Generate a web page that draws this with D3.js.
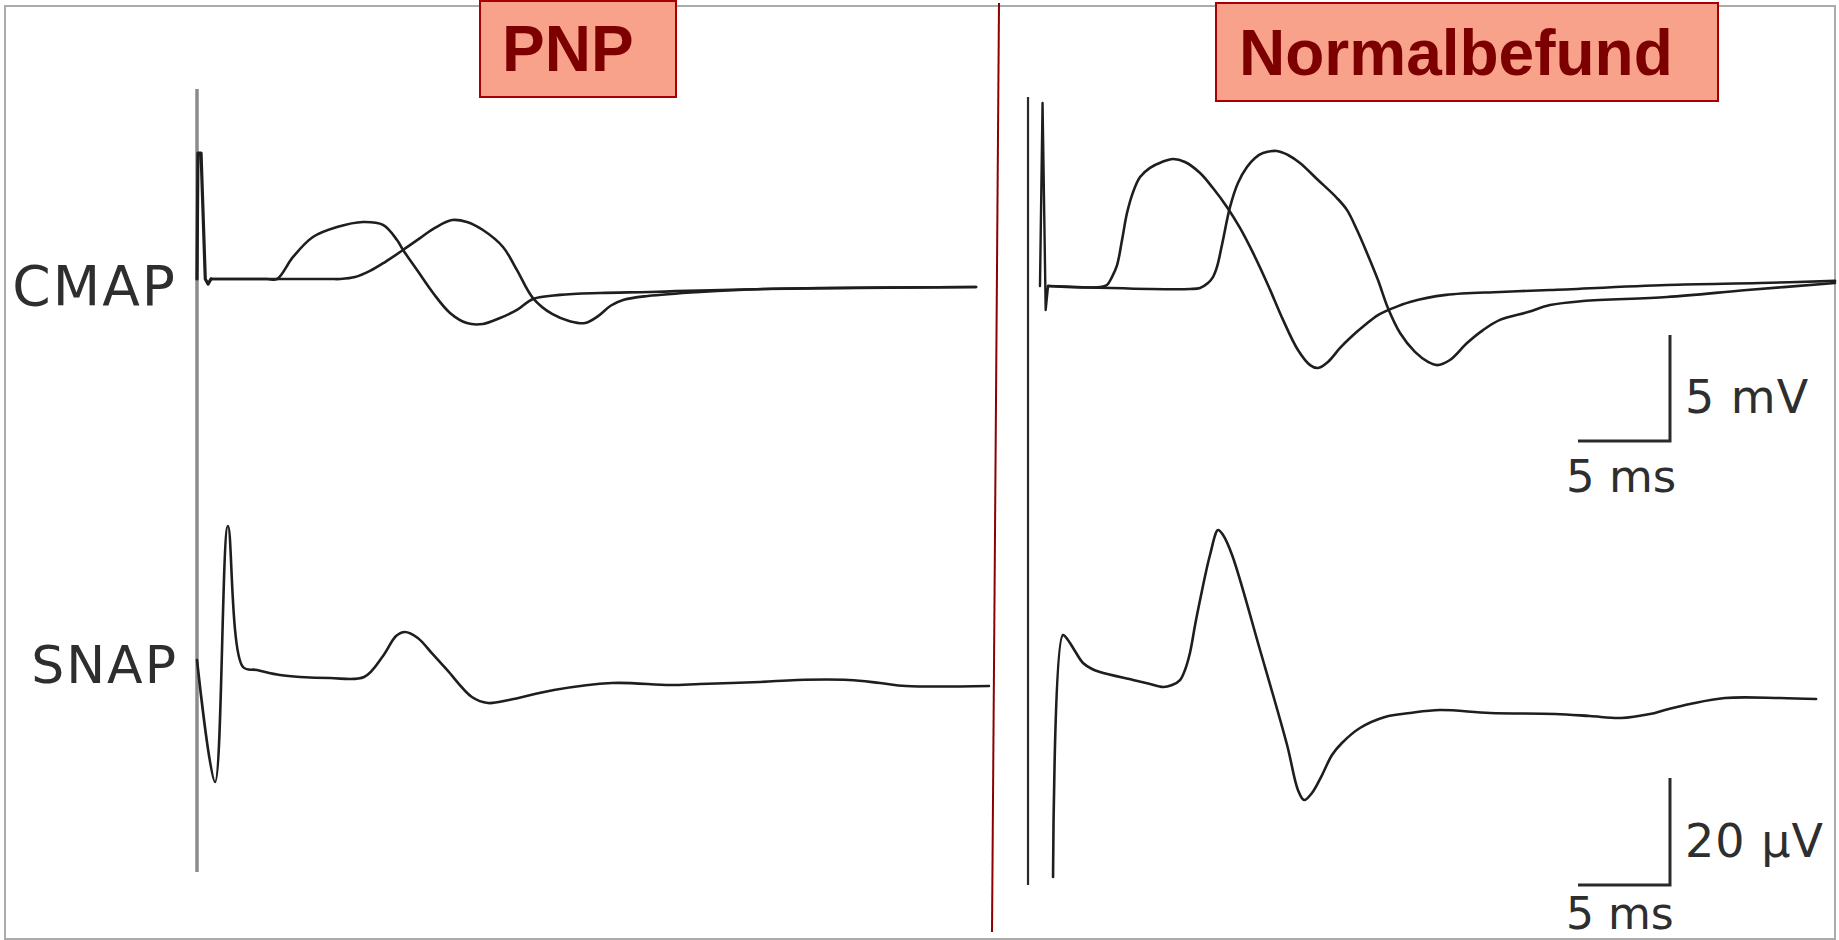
<!DOCTYPE html>
<head>
  <meta charset="utf-8">
  <script src="https://cdn.jsdelivr.net/npm/d3@7"></script>
  <style>
    body { margin:0; background:#fff; }
    .trace { fill:none; stroke:#1e1e1e; stroke-width:2.6; stroke-linejoin:round; stroke-linecap:round; }
    .lbl { font-family:"DejaVu Sans", sans-serif; fill:#2e2e2e; }
    .title { font-family:"Liberation Sans", Arial, sans-serif; font-weight:bold; font-size:64px; fill:#7d0000; }
  </style>
</head>

<body>
  <script>
    // time in ms, CMAP in mV, SNAP in µV
    var stimArtifactLeft = [[0,0],[0.05,5.94],[0.22,5.94],[0.45,0],[0.6,-0.24],[0.76,0]];
    var cmapLeftDistal = [[0.76,0],[3.8,0],[4.35,0],[5.22,1.04],[6.3,1.98],[7.61,2.45],[9.02,2.69],
      [10.11,2.55],[10.87,1.84],[11.2,1.37],[11.96,0.42],[12.83,-0.66],[13.75,-1.6],[14.67,-2.08],
      [15.54,-2.12],[16.47,-1.84],[17.39,-1.46],[18.26,-0.94],[19.73,-0.75],[21.9,-0.66],[24.62,-0.61],
      [30.87,-0.47],[42.34,-0.38]];
    var cmapLeftProximal = [[0.76,0],[7.2,0],[7.77,0],[8.59,0.09],[9.4,0.38],[10.22,0.8],[11.2,1.37],
      [12.12,1.93],[12.93,2.41],[13.86,2.78],[14.67,2.69],[15.54,2.31],[16.63,1.51],[17.39,0.42],
      [18.26,-0.9],[19.3,-1.65],[20.3,-2.0],[21.09,-2.08],[21.8,-1.75],[22.5,-1.25],[23.2,-0.98],
      [24.5,-0.8],[27.34,-0.61],[30.87,-0.47],[42.34,-0.38]];
    var snapLeft = [[0,3.18],[0.98,-19.63],[1.68,28.22],[2.5,1.87],[3.26,1.31],[4.51,0.37],[5.6,0],
      [7.23,-0.19],[9.08,0],[10.11,3.93],[10.82,7.66],[11.3,8.41],[12.0,7.3],[12.8,4.3],[13.59,1.31],
      [14.94,-3.74],[15.82,-4.86],[16.96,-4.3],[19.4,-2.43],[22.55,-1.12],[25.71,-1.5],[27.34,-1.31],
      [30.6,-0.93],[32.61,-0.56],[35.43,-0.56],[37.12,-1.12],[38.53,-1.68],[43.04,-1.68]];

    var stimArtifactRight = [[-0.11,0],[0.03,8.63],[0.2,-1.13],[0.33,0]];
    var cmapRightDistal = [[0.33,0],[3.15,-0.05],[3.53,0.05],[3.8,0.42],[4.08,0.99],[4.35,2.17],
      [4.62,3.44],[4.95,4.43],[5.33,5.14],[5.87,5.57],[6.52,5.85],[7.12,5.99],[7.77,5.85],[8.59,5.33],
      [9.29,4.62],[10.05,3.73],[10.76,2.74],[11.47,1.56],[12.28,0.05],[13.1,-1.6],[13.91,-3.02],
      [14.57,-3.73],[15,-3.87],[15.54,-3.58],[16.2,-2.92],[16.74,-2.45],[17.55,-1.84],[18.26,-1.37],
      [18.97,-1.08],[20,-0.75],[21.96,-0.42],[24.89,-0.28],[27.61,-0.19],[33.97,0.05],[39.02,0.14],
      [43.1,0.24]];
    var cmapRightProximal = [[0.33,0],[5.87,-0.14],[8.04,-0.14],[8.59,-0.09],[9.02,0.14],[9.29,0.42],
      [9.51,0.9],[9.78,1.93],[10.22,3.73],[10.65,4.86],[11.14,5.61],[11.58,6.04],[12.01,6.27],
      [12.77,6.37],[13.37,6.18],[14.02,5.8],[15,5],[16.03,4.15],[16.58,3.58],[17.12,2.64],[17.66,1.56],
      [18.26,0.28],[18.8,-1.04],[19.46,-2.22],[20.27,-3.11],[20.98,-3.58],[21.47,-3.73],[22.17,-3.49],
      [23.1,-2.69],[23.97,-2.08],[24.89,-1.6],[26.41,-1.23],[27.61,-0.9],[29.4,-0.71],[33.97,-0.52],
      [38.32,-0.19],[43.1,0.14]];
    var snapRight = [[0.6,-30.84],[1.14,14.39],[1.41,13.46],[1.79,11.4],[2.23,9.16],[2.72,8.04],
      [3.15,7.48],[4.95,5.98],[5.87,5.23],[6.58,4.67],[7.07,5.05],[7.5,5.98],[7.77,7.85],[8.04,11.03],
      [8.32,16.26],[8.59,20.93],[9.13,29.35],[9.57,34.02],[9.84,33.08],[10.33,29.35],[11.85,11.59],
      [13.32,-6.17],[13.91,-14.58],[14.24,-16.45],[14.67,-15.14],[15.22,-11.78],[15.76,-8.04],
      [16.3,-5.79],[17.28,-2.99],[18.64,-0.93],[20,-0.19],[21.63,0.37],[24.35,-0.19],[27.88,-0.37],
      [29.78,-0.75],[31.47,-1.12],[33.04,-0.37],[33.86,0.37],[35.22,1.5],[37.12,2.62],[40.11,2.62],
      [42.07,2.43]];

    var panelTitles = ["PNP", "Normalbefund"];
    var traceLabels = ["CMAP", "SNAP"];
    // scale bars: corner (ms, amplitude), length 5 ms / 5 mV / 20 µV
    var cmapBar = {t:34.13, v:-7.31, dt:5, dv:5, vLabel:"5 mV", tLabel:"5 ms"};
    var snapBar = {t:34.13, v:-32.34, dt:5, dv:20, vLabel:"20 µV", tLabel:"5 ms"};

    var width = 1839, height = 940;

    var svg = d3.select("body").append("svg")
      .attr("width", width)
      .attr("height", height);

    var xLeft = d3.scaleLinear().domain([0, 45]).range([197, 1025]);
    var xRight = d3.scaleLinear().domain([0, 43]).range([1042, 1833.2]);
    var yCmapL = d3.scaleLinear().domain([0, 5]).range([279, 173]);
    var ySnapL = d3.scaleLinear().domain([0, 20]).range([677, 570]);
    var yCmapR = d3.scaleLinear().domain([0, 5]).range([286, 180]);
    var ySnapR = d3.scaleLinear().domain([0, 20]).range([712, 605]);

    // frame + divider
    svg.append("rect").attr("x", 5).attr("y", 6).attr("width", 1830).attr("height", 933)
      .attr("fill", "none").attr("stroke", "#ababab").attr("stroke-width", 2);
    svg.append("line").attr("x1", 999).attr("y1", 3).attr("x2", 992).attr("y2", 932)
      .attr("stroke", "#8b0000").attr("stroke-width", 2);

    // stimulus marker lines
    svg.append("line").attr("x1", xLeft(0)).attr("x2", xLeft(0)).attr("y1", 89).attr("y2", 872)
      .attr("stroke", "#8c8c8c").attr("stroke-width", 3.5);
    svg.append("line").attr("x1", xRight(-0.76)).attr("x2", xRight(-0.76)).attr("y1", 97).attr("y2", 885)
      .attr("stroke", "#2a2a2a").attr("stroke-width", 2.2);

    var line = function(x, y, curve) {
      return d3.line()
        .x(function(d) { return x(d[0]); })
        .y(function(d) { return y(d[1]); })
        .curve(curve);
    };
    var smooth = d3.curveCatmullRom.alpha(0.5);

    var traces = [
      {x: xLeft, y: yCmapL, data: stimArtifactLeft, curve: d3.curveLinear, w: 3.2},
      {x: xLeft, y: yCmapL, data: cmapLeftDistal, curve: smooth},
      {x: xLeft, y: yCmapL, data: cmapLeftProximal, curve: smooth},
      {x: xLeft, y: ySnapL, data: snapLeft, curve: smooth},
      {x: xRight, y: yCmapR, data: stimArtifactRight, curve: d3.curveLinear, w: 2.4},
      {x: xRight, y: yCmapR, data: cmapRightDistal, curve: smooth},
      {x: xRight, y: yCmapR, data: cmapRightProximal, curve: smooth},
      {x: xRight, y: ySnapR, data: snapRight, curve: smooth}
    ];

    svg.selectAll("path.trace").data(traces).enter().append("path")
      .attr("class", "trace")
      .style("stroke-width", function(d) { return d.w || null; })
      .attr("d", function(d) { return line(d.x, d.y, d.curve)(d.data); });

    // trace labels (left panel)
    svg.append("text").attr("class", "lbl").attr("x", 177).attr("y", 305)
      .attr("text-anchor", "end").style("font-size", "55px").style("letter-spacing", "2px")
      .text(traceLabels[0]);
    svg.append("text").attr("class", "lbl").attr("x", 178).attr("y", 683)
      .attr("text-anchor", "end").style("font-size", "52px").style("letter-spacing", "2px")
      .text(traceLabels[1]);

    // scale bars (right panel)
    var drawBar = function(bar, y, dyLabel, size) {
      var cx = xRight(bar.t), cy = y(bar.v);
      svg.append("path")
        .attr("d", "M" + xRight(bar.t - bar.dt) + "," + cy + "H" + cx + "V" + y(bar.v + bar.dv))
        .attr("fill", "none").attr("stroke", "#2a2a2a").attr("stroke-width", 3);
      svg.append("text").attr("class", "lbl").attr("x", cx + 15).attr("y", cy - 28)
        .style("font-size", "46px").style("letter-spacing", "1px").text(bar.vLabel);
      svg.append("text").attr("class", "lbl").attr("x", cx - 104).attr("y", cy + dyLabel)
        .style("font-size", size + "px").text(bar.tLabel);
    };
    drawBar(cmapBar, yCmapR, 51, 45);
    drawBar(snapBar, ySnapR, 44, 44);

    // title boxes
    var boxes = [{x:480, y:1, w:196, h:96, tx:502, ty:71}, {x:1216, y:3, w:502, h:98, tx:1239, ty:75}];
    boxes.forEach(function(b, i) {
      svg.append("rect").attr("x", b.x).attr("y", b.y).attr("width", b.w).attr("height", b.h)
        .attr("fill", "#f9a28b").attr("stroke", "#a80000").attr("stroke-width", 2);
      svg.append("text").attr("class", "title").attr("x", b.tx).attr("y", b.ty).text(panelTitles[i]);
    });
  </script>
</body>
